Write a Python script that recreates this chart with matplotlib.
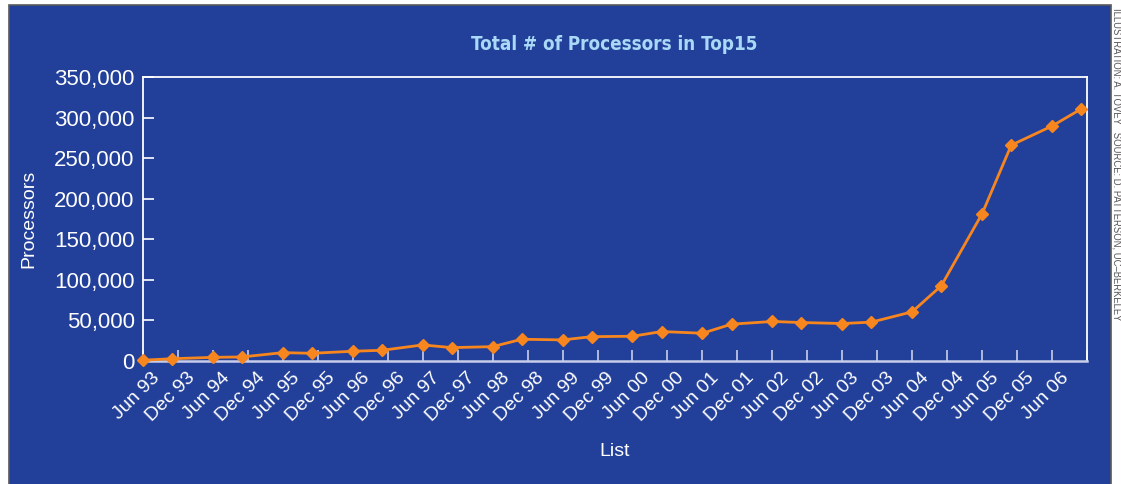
import matplotlib
matplotlib.use("Agg")
import matplotlib.pyplot as plt
import matplotlib.transforms as mtransforms
from matplotlib.patches import Rectangle
from matplotlib.ticker import FuncFormatter

# Top500 list editions (June and November) and total processors in the top 15 systems
editions = ["Jun 93", "Nov 93", "Jun 94", "Nov 94", "Jun 95", "Nov 95", "Jun 96", "Nov 96",
            "Jun 97", "Nov 97", "Jun 98", "Nov 98", "Jun 99", "Nov 99", "Jun 00", "Nov 00",
            "Jun 01", "Nov 01", "Jun 02", "Nov 02", "Jun 03", "Nov 03", "Jun 04", "Nov 04",
            "Jun 05", "Nov 05", "Jun 06", "Nov 06"]
processors = [1000, 2800, 4500, 5000, 10300, 9500, 12000, 13200,
              19800, 16500, 17700, 26800, 26000, 30000, 30500, 36300,
              34200, 45400, 48700, 47400, 46200, 47900, 60600, 92800,
              181500, 266000, 289600, 310600]

tick_labels = ["Jun 93", "Dec 93", "Jun 94", "Dec 94", "Jun 95", "Dec 95", "Jun 96", "Dec 96",
               "Jun 97", "Dec 97", "Jun 98", "Dec 98", "Jun 99", "Dec 99", "Jun 00", "Dec 00",
               "Jun 01", "Dec 01", "Jun 02", "Dec 02", "Jun 03", "Dec 03", "Jun 04", "Dec 04",
               "Jun 05", "Dec 05", "Jun 06"]

month_num = {"Jan": 1, "Feb": 2, "Mar": 3, "Apr": 4, "May": 5, "Jun": 6, "Jul": 7,
             "Aug": 8, "Sep": 9, "Oct": 10, "Nov": 11, "Dec": 12}


def months_since_start(label):
    mon, yy = label.split()
    year = 1900 + int(yy) if int(yy) > 50 else 2000 + int(yy)
    return (year - 1993) * 12 + month_num[mon] - 6


x_points = [months_since_start(e) for e in editions]
x_ticks = [months_since_start(t) for t in tick_labels]

bg_blue = "#22409a"
orange = "#f7861f"
light = "#c8cdea"

plt.rcParams["font.family"] = ["Liberation Sans", "DejaVu Sans"]

fig = plt.figure(figsize=(11.21, 4.84), dpi=100)
fig.patch.set_facecolor("white")
# blue panel behind the chart
fig.patches.append(Rectangle((9 / 1121, -0.01), 1102 / 1121, 479 / 484 + 0.01, transform=fig.transFigure,
                             facecolor=bg_blue, edgecolor="#5a5a5a", linewidth=1.2, zorder=-10))

ax = fig.add_axes([143 / 1121, 1 - 361 / 484, 944 / 1121, 284 / 484])
ax.set_facecolor(bg_blue)

ax.plot(x_points, processors, color=orange, linewidth=2, marker="D", markersize=6,
        zorder=3, clip_on=False)

ax.set_xlim(0, 162)
ax.set_ylim(0, 350000)
ax.set_yticks(range(0, 350001, 50000))
ax.yaxis.set_major_formatter(FuncFormatter(lambda v, p: f"{int(v):,}"))
ax.set_xticks(x_ticks + [162])
ax.set_xticklabels(tick_labels + [""])

for side in ["left", "top", "right"]:
    ax.spines[side].set_color("white")
    ax.spines[side].set_linewidth(1.3)
ax.spines["bottom"].set_color(light)
ax.spines["bottom"].set_linewidth(1.8)

ax.tick_params(axis="y", direction="in", length=8, width=1.2, color="white",
               labelcolor="white", labelsize=16, pad=6)
ax.tick_params(axis="x", direction="in", length=8, width=1.2, color=light,
               labelcolor="white", labelsize=14, pad=6)

offset = mtransforms.ScaledTranslation(6 / 72, 0, fig.dpi_scale_trans)
for lbl in ax.get_xticklabels():
    lbl.set_rotation(45)
    lbl.set_ha("right")
    lbl.set_va("top")
    lbl.set_rotation_mode("anchor")
    lbl.set_transform(lbl.get_transform() + offset)

ax.set_ylabel("Processors", color="white", fontsize=14)
ax.yaxis.set_label_coords(-0.112, 0.5)
ax.set_xlabel("List", color="white", fontsize=14)
ax.xaxis.set_label_coords(0.5, -0.29)

fig.text(614 / 1121, 1 - 45 / 484, "Total # of Processors in Top15",
         color="#a9d9f7", fontsize=13.5, fontweight="bold", fontstretch="condensed",
         family=["DejaVu Sans"], ha="center", va="center")

fig.text(1116 / 1121, 1 - 8 / 484,
         "ILLUSTRATION: A. TOVEY   SOURCE: D. PATTERSON, UC\u2013BERKELEY",
         color="#555555", fontsize=6.85, rotation=-90, ha="center", va="top")

fig.savefig("out.png", dpi=100, facecolor=fig.get_facecolor())
